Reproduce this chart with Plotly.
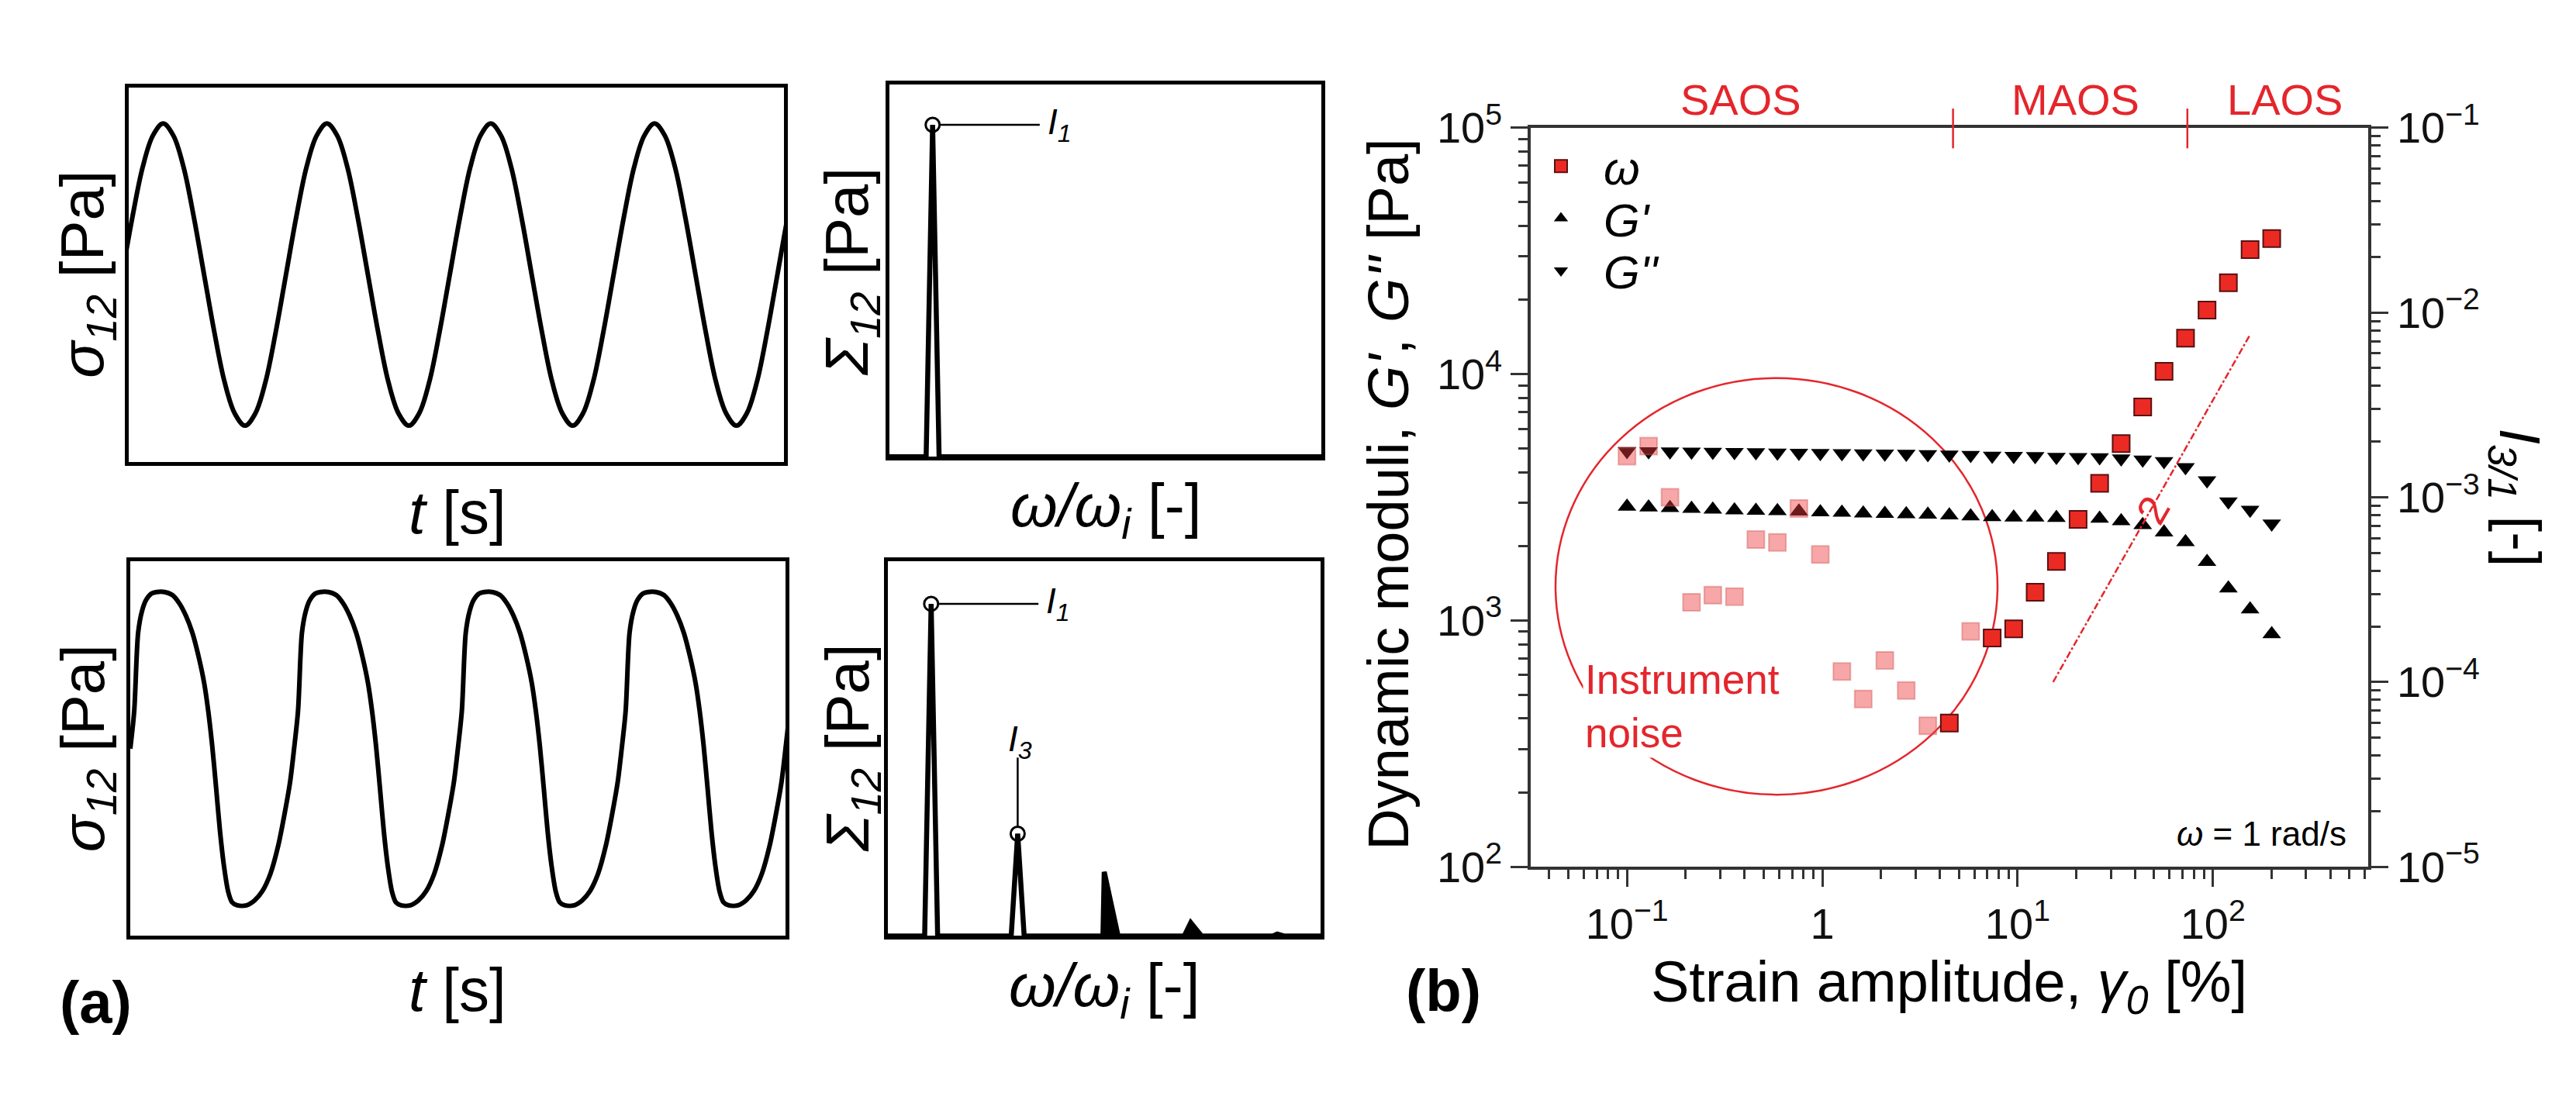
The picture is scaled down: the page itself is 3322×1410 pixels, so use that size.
import math
import plotly.graph_objects as go

W, H = 3322, 1410
def X(px): return px / W
def Y(py): return 1 - py / H

FONT = "Liberation Sans, Arial, Helvetica, sans-serif"
RED = "#e4262c"

# ---------------- data: panel (a) ----------------
# one cycle of the SAOS (sinusoidal) stress signal, phase in cycles, normalised stress
saos_phase = [0.0, 0.0625, 0.125, 0.1875, 0.25, 0.3125, 0.375, 0.4375,
              0.5, 0.5625, 0.625, 0.6875, 0.75, 0.8125, 0.875, 0.9375]
saos_stress = [0.0, 0.38, 0.71, 0.92, 1.0, 0.92, 0.71, 0.38,
               0.0, -0.38, -0.71, -0.92, -1.0, -0.92, -0.71, -0.38]
# one cycle of the LAOS (distorted) stress signal
laos_phase = [0.000, 0.024, 0.048, 0.072, 0.097, 0.129, 0.161, 0.210, 0.258, 0.298,
              0.339, 0.379, 0.419, 0.451, 0.476, 0.500, 0.524, 0.548, 0.572, 0.597,
              0.621, 0.653, 0.710, 0.758, 0.806, 0.855, 0.903, 0.943, 0.976]
laos_stress = [0.00, 0.24, 0.74, 0.88, 0.95, 0.99, 1.00, 1.00, 0.98, 0.93,
               0.85, 0.74, 0.58, 0.42, 0.24, 0.02, -0.25, -0.53, -0.75, -0.91,
               -0.98, -1.00, -1.00, -0.97, -0.91, -0.80, -0.62, -0.41, -0.21]
n_cycles = 5

# Fourier spectra (omega/omega_i, normalised intensity)
spec_saos_x = [0, 0.85, 1.0, 1.15, 10]
spec_saos_y = [0, 0, 1.0, 0, 0]
spec_laos_x = [0, 0.85, 1.0, 1.15, 2.85, 3.0, 3.15, 4.97, 5.0, 5.32, 6.85, 7.0, 7.25, 8.9, 9.0, 9.15, 10]
spec_laos_y = [0, 0, 1.0, 0, 0, 0.308, 0, 0, 0.193, 0, 0, 0.04, 0, 0, 0.006, 0, 0]
harm_idx = [1, 3]           # marked harmonics I1, I3
harm_val = [1.0, 0.308]

# ---------------- data: panel (b) ----------------
strain = [0.1, 0.129, 0.166, 0.214, 0.275, 0.355, 0.457, 0.589, 0.759, 0.977,
          1.26, 1.62, 2.09, 2.69, 3.47, 4.47, 5.75, 7.41, 9.55, 12.3,
          15.8, 20.4, 26.3, 33.9, 43.7, 56.2, 72.4, 93.3, 120, 155, 200]
g_storage = [2900, 2880, 2860, 2840, 2820, 2800, 2790, 2780, 2770, 2750,
             2740, 2720, 2710, 2700, 2690, 2670, 2650, 2630, 2620, 2620,
             2610, 2600, 2590, 2530, 2440, 2280, 2080, 1730, 1350, 1110, 880]
g_loss = [4870, 4860, 4850, 4840, 4830, 4820, 4810, 4800, 4790, 4780,
          4770, 4760, 4750, 4740, 4730, 4710, 4690, 4660, 4650, 4640,
          4610, 4600, 4590, 4540, 4490, 4430, 4190, 3700, 3040, 2810, 2470]
i31 = [1.67e-3, 1.89e-3, 1.0e-3, 2.7e-4, 2.95e-4, 2.9e-4, 5.9e-4, 5.7e-4, 8.7e-4, 4.9e-4,
       1.14e-4, 8.1e-5, 1.31e-4, 9.0e-5, 5.8e-5, 6.0e-5, 1.88e-4, 1.73e-4, 1.94e-4, 3.06e-4,
       4.5e-4, 7.6e-4, 1.19e-3, 1.95e-3, 3.08e-3, 4.8e-3, 7.26e-3, 1.03e-2, 1.45e-2, 2.19e-2, 2.51e-2]
i31_noise = [1, 1, 1, 1, 1, 1, 1, 1, 1, 1, 1, 1, 1, 1, 1, 0, 1, 0, 0, 0,
             0, 0, 0, 0, 0, 0, 0, 0, 0, 0, 0]
slope_x = [15.2, 154]
slope_y = [1.0e-4, 7.5e-3]
regime_labels = ["SAOS", "MAOS", "LAOS"]
regime_pos = [0.384, 19.7, 234]
regime_bounds = [4.67, 74]

# ---------------- build waveforms ----------------
def build(phase, vals):
    t, y = [], []
    for c in range(n_cycles):
        for p, v in zip(phase, vals):
            t.append(c + p)
            y.append(v)
    t.append(float(n_cycles)); y.append(vals[0])
    return t, y

t1, s1 = build(saos_phase, saos_stress)
t2, s2 = build(laos_phase, laos_stress)

fig = go.Figure()
LW = 6
fig.add_trace(go.Scatter(x=t1, y=s1, mode="lines", line=dict(color="black", width=LW, shape="spline", smoothing=1.0),
                         xaxis="x", yaxis="y", showlegend=False))
fig.add_trace(go.Scatter(x=t2, y=s2, mode="lines", line=dict(color="black", width=LW, shape="spline", smoothing=0.8),
                         xaxis="x2", yaxis="y2", showlegend=False))

# spectra
fig.add_trace(go.Scatter(x=spec_saos_x, y=spec_saos_y, mode="lines", line=dict(color="black", width=6.5),
                         xaxis="x3", yaxis="y3", showlegend=False))
fig.add_trace(go.Scatter(x=spec_laos_x, y=spec_laos_y, mode="lines", line=dict(color="black", width=6.5),
                         xaxis="x4", yaxis="y4", showlegend=False))
fig.add_trace(go.Scatter(x=spec_laos_x[7:], y=spec_laos_y[7:], mode="lines", line=dict(color="black", width=2),
                         fill="tozeroy", fillcolor="black", xaxis="x4", yaxis="y4", showlegend=False))
circ = dict(symbol="circle-open", size=18, color="black", line=dict(width=3, color="black"))
fig.add_trace(go.Scatter(x=harm_idx[:1], y=harm_val[:1], mode="markers", marker=circ,
                         xaxis="x3", yaxis="y3", showlegend=False))
fig.add_trace(go.Scatter(x=harm_idx, y=harm_val, mode="markers", marker=circ,
                         xaxis="x4", yaxis="y4", showlegend=False))

# panel (b)
fig.add_trace(go.Scatter(x=strain, y=g_storage, mode="markers", name="<i>G'</i>",
                         marker=dict(symbol="triangle-up", size=21, color="black", line=dict(width=0)),
                         xaxis="x5", yaxis="y5", legend="legend2"))
fig.add_trace(go.Scatter(x=strain, y=g_loss, mode="markers", name="<i>G''</i>",
                         marker=dict(symbol="triangle-down", size=21, color="black", line=dict(width=0)),
                         xaxis="x5", yaxis="y5", legend="legend3"))
nx = [s for s, f in zip(strain, i31_noise) if f]
ny = [v for v, f in zip(i31, i31_noise) if f]
cx = [s for s, f in zip(strain, i31_noise) if not f]
cy = [v for v, f in zip(i31, i31_noise) if not f]
fig.add_trace(go.Scatter(x=nx, y=ny, mode="markers", showlegend=False,
                         marker=dict(symbol="square", size=22, color="rgba(238,60,60,0.45)",
                                     line=dict(width=2, color="rgba(210,90,90,0.45)")),
                         xaxis="x5", yaxis="y6"))
fig.add_trace(go.Scatter(x=cx, y=cy, mode="markers", name="<i>ω</i>",
                         marker=dict(symbol="square", size=22, color="#ec2a24",
                                     line=dict(width=2, color="#5a1010")),
                         xaxis="x5", yaxis="y6", legend="legend"))
fig.add_trace(go.Scatter(x=slope_x, y=slope_y, mode="lines", showlegend=False,
                         line=dict(color=RED, width=2.5, dash="dashdot"),
                         xaxis="x5", yaxis="y6"))

# ---------------- axes ----------------
box = dict(showline=True, mirror=True, linewidth=5, linecolor="black", showticklabels=False,
           ticks="", showgrid=False, zeroline=False)
XR5 = [-1.493, 2.795]
layout = dict(
    width=W, height=H, margin=dict(l=0, r=0, t=0, b=0),
    paper_bgcolor="white", plot_bgcolor="rgba(0,0,0,0)",
    font=dict(family=FONT, color="black"),
    xaxis=dict(domain=[X(158), X(1003)], range=[0.04, 4.04], anchor="y", **box),
    yaxis=dict(domain=[Y(578), Y(69)], range=[-1.24, 1.24], anchor="x", **box),
    xaxis2=dict(domain=[X(160), X(1005)], range=[0.0, 4.0], anchor="y2", **box),
    yaxis2=dict(domain=[Y(1222), Y(713)], range=[-1.196, 1.196], anchor="x2", **box),
    xaxis3=dict(domain=[X(1139), X(1696)], range=[0, 10], anchor="y3", **box),
    yaxis3=dict(domain=[Y(571), Y(65)], range=[0, 1.122], anchor="x3", **box),
    xaxis4=dict(domain=[X(1137), X(1695)], range=[0, 10], anchor="y4", **box),
    yaxis4=dict(domain=[Y(1222), Y(713)], range=[0, 1.128], anchor="x4", **box),
)

x_minor = [m * 10 ** d for d in range(-2, 3) for m in range(2, 10) if 10 ** XR5[0] < m * 10 ** d < 10 ** XR5[1]]
yl_minor = [m * 10 ** d for d in range(2, 5) for m in range(2, 10)]
yr_minor = [m * 10 ** d for d in range(-5, -1) for m in range(2, 10)]
axb = dict(showline=True, linewidth=3.5, linecolor="#333", ticks="outside", ticklen=22, tickwidth=3,
           tickcolor="#333", showgrid=False, zeroline=False, tickfont=dict(size=56, family=FONT, color="#111"))
minor = dict(ticks="outside", ticklen=12, tickwidth=2.5, tickcolor="#333", showgrid=False)
layout["xaxis5"] = dict(domain=[X(1966), X(3046)], type="log", range=XR5, anchor="y5", mirror=True,
                        tickmode="array", tickvals=[0.1, 1, 10, 100],
                        ticktext=["10<sup>−1</sup>", "1", "10<sup>1</sup>", "10<sup>2</sup>"],
                        minor=dict(tickmode="array", tickvals=x_minor, **minor), **axb)
layout["yaxis5"] = dict(domain=[Y(1128), Y(124)], type="log", range=[2, 5], anchor="x5",
                        tickmode="array", tickvals=[1e2, 1e3, 1e4, 1e5],
                        ticktext=["10<sup>2</sup>", "10<sup>3</sup>", "10<sup>4</sup>", "10<sup>5</sup>"],
                        minor=dict(tickmode="array", tickvals=yl_minor, **minor), **axb)
layout["yaxis6"] = dict(type="log", range=[-5, -1], anchor="x5", overlaying="y5", side="right",
                        tickmode="array", tickvals=[1e-5, 1e-4, 1e-3, 1e-2, 1e-1],
                        ticktext=["10<sup>−5</sup>", "10<sup>−4</sup>", "10<sup>−3</sup>", "10<sup>−2</sup>", "10<sup>−1</sup>"],
                        minor=dict(tickmode="array", tickvals=yr_minor, **minor), **axb)

leg = dict(xanchor="left", yanchor="middle", bgcolor="rgba(0,0,0,0)", borderwidth=0,
           font=dict(size=60, family=FONT, color="black"), itemsizing="trace", itemwidth=100)
layout["legend"] = dict(x=X(1950), y=Y(176), **leg)
layout["legend2"] = dict(x=X(1950), y=Y(247), **leg)
layout["legend3"] = dict(x=X(1950), y=Y(318), **leg)
fig.update_layout(**layout)

# ---------------- annotations ----------------
def xfrac(v):
    return (math.log10(v) - XR5[0]) / (XR5[1] - XR5[0])

ann = []
def A(text, x, y, size, angle=0, **kw):
    d = dict(text=text, x=x, y=y, xref="paper", yref="paper", showarrow=False, textangle=angle,
             font=dict(size=size, family=FONT, color=kw.pop("color", "black")),
             xanchor=kw.pop("xanchor", "center"), yanchor=kw.pop("yanchor", "middle"))
    d.update(kw)
    ann.append(d)

LBL = 78
A("<i>σ<sub>12</sub></i> [Pa]", X(104), Y(323), LBL, -90)
A("<i>σ<sub>12</sub></i> [Pa]", X(104), Y(967), LBL, -90)
A("<i>t</i> [s]", X(582), Y(647), LBL)
A("<i>t</i> [s]", X(582), Y(1295), LBL)
A("<i>Σ<sub>12</sub></i> [Pa]", X(1090), Y(320), LBL, -90)
A("<i>Σ<sub>12</sub></i> [Pa]", X(1090), Y(967), LBL, -90)
A("<i>ω/ω<sub>i</sub></i> [-]", X(1418), Y(643), LBL)
A("<i>ω/ω<sub>i</sub></i> [-]", X(1416), Y(1295), LBL)
A("<b>(a)</b>", X(115), Y(1312), 76)
A("<b>(b)</b>", X(1854), Y(1296), 76)

A("Dynamic moduli, <i>G'</i>, <i>G''</i> [Pa]", X(1783), Y(622), 74, -90)
A("<i>I<sub>3/1</sub></i> [-]", X(3236), Y(626), 74, 90)
A("Strain amplitude, <i>γ<sub>0</sub></i> [%]", X(2505), Y(1290), 74)
A("<i>ω</i> = 1 rad/s", X(3020), Y(1083), 44, xanchor="right")
A("Instrument<br>noise", X(2033), Y(910), 53, color=RED, xanchor="left", align="left",
  bgcolor="white", borderpad=2)
A("2", X(2768), Y(643), 54, -60, color=RED)

for lab, pos in zip(regime_labels, regime_pos):
    ann.append(dict(text=lab, x=xfrac(pos), y=Y(86), xref="x5 domain", yref="paper", showarrow=False,
                    font=dict(size=56, family=FONT, color=RED), xanchor="center", yanchor="middle"))

# spectrum labels
for ax in ["3", "4"]:
    ann.append(dict(text="<i>I<sub>1</sub></i>", x=3.62, y=1.0, xref="x" + ax, yref="y" + ax, showarrow=False,
                    font=dict(size=46, family=FONT), xanchor="left", yanchor="middle"))
ann.append(dict(text="<i>I<sub>3</sub></i>", x=3.05, y=0.585, xref="x4", yref="y4", showarrow=False,
                font=dict(size=46, family=FONT), xanchor="center", yanchor="middle"))
fig.update_layout(annotations=ann)

shapes = []
for ax in ["3", "4"]:
    shapes.append(dict(type="line", xref="x" + ax, yref="y" + ax, x0=1.18, x1=3.48, y0=1.0, y1=1.0,
                       line=dict(color="black", width=2.5)))
shapes.append(dict(type="line", xref="x4", yref="y4", x0=3.0, x1=3.0, y0=0.33, y1=0.537,
                   line=dict(color="black", width=2.5)))
for b in regime_bounds:
    shapes.append(dict(type="line", xref="x5 domain", yref="paper", x0=xfrac(b), x1=xfrac(b),
                       y0=Y(152), y1=Y(98), line=dict(color=RED, width=2.5)))
shapes.append(dict(type="circle", xref="paper", yref="paper", x0=X(1998), x1=X(2568),
                   y0=Y(1030), y1=Y(464), line=dict(color=RED, width=2.5), layer="below"))
fig.update_layout(shapes=shapes)

fig.write_html("out.html")
